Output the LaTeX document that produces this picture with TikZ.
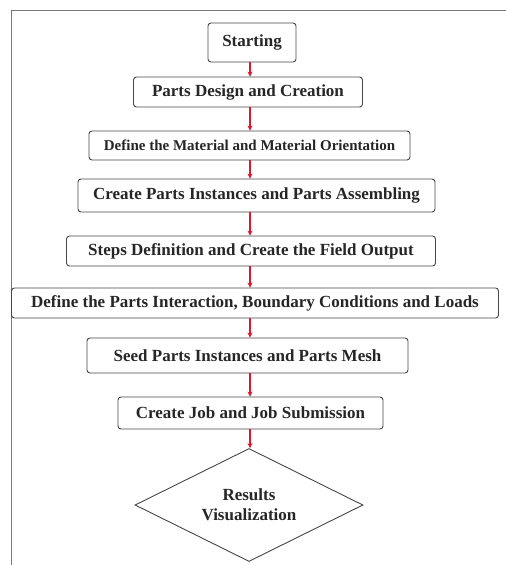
\documentclass[tikz,border=0pt]{standalone}
\usepackage{fontspec}
\setmainfont{Liberation Serif}
\usetikzlibrary{shapes.geometric,arrows.meta}
\definecolor{framegray}{RGB}{120,120,120}
\definecolor{boxgray}{RGB}{70,70,70}
\definecolor{arrowred}{RGB}{215,25,50}
\tikzset{
  stepbox/.style={draw=boxgray,line width=0.9pt,rounded corners=3pt,inner sep=0pt,
    font=\bfseries\fontsize{17}{19}\selectfont,text=black!85},
  endbox/.style={draw=boxgray,line width=0.9pt,diamond,aspect=2,inner sep=0pt,
    align=center,font=\bfseries\fontsize{17}{20}\selectfont,text=black!85},
  flowarrow/.style={draw=arrowred,line width=1.4pt,-{Stealth[length=5pt,width=5pt]}}
}
\begin{document}
\begin{tikzpicture}[x=1pt,y=-1pt]
	\useasboundingbox (0,0) rectangle (506,565);
	\draw[framegray,line width=1pt] (11,565) -- (11,10.5) -- (506,10.5);
	\coordinate (axis) at (250,0);
	\node[stepbox,minimum width=88pt,minimum height=39pt] (start) at (252,42.5) {Starting};
	\node[stepbox,minimum width=229pt,minimum height=30pt] (design) at (248,92) {Parts Design and Creation};
	\node[stepbox,minimum width=321pt,minimum height=29pt,font=\bfseries\fontsize{15}{17}\selectfont] (material) at (249.5,145.5) {Define the Material and Material Orientation};
	\node[stepbox,minimum width=357pt,minimum height=33pt] (assembly) at (256.5,195.5) {Create Parts Instances and Parts Assembling};
	\node[stepbox,minimum width=369pt,minimum height=30pt] (steps) at (251,251) {Steps Definition and Create the Field Output};
	\node[stepbox,minimum width=487pt,minimum height=30pt] (loads) at (255,303) {Define the Parts Interaction, Boundary Conditions and Loads};
	\node[stepbox,minimum width=321pt,minimum height=35pt] (mesh) at (247.5,355.5) {Seed Parts Instances and Parts Mesh};
	\node[stepbox,minimum width=265pt,minimum height=32pt] (job) at (250.5,413) {Create Job and Job Submission};
	\node[endbox,minimum width=228pt,minimum height=113pt] (results) at (249,505) {Results\\Visualization};
	\foreach \a/\b in {start/design,design/material,material/assembly,assembly/steps,steps/loads,loads/mesh,mesh/job,job/results}
		\draw[flowarrow] (\a.south -| axis) -- (\b.north -| axis);
\end{tikzpicture}
\end{document}
